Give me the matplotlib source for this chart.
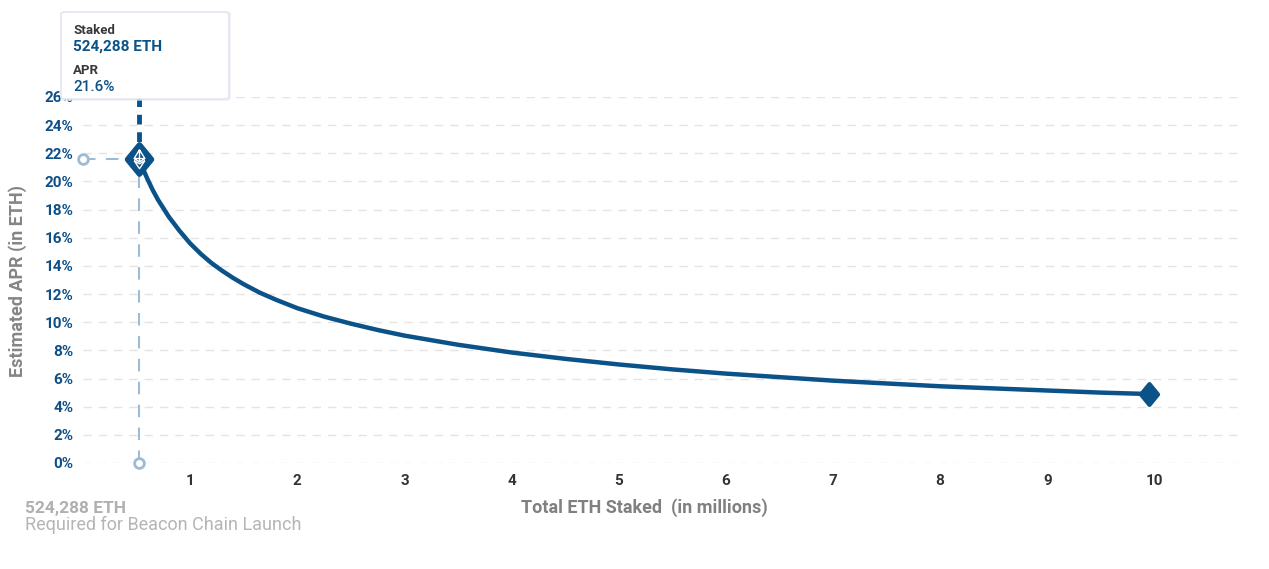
import matplotlib.pyplot as plt
from matplotlib.patches import FancyBboxPatch
from matplotlib.path import Path
from matplotlib.markers import MarkerStyle

# data: total staked (millions ETH) vs estimated APR (%)
staked = [0.524, 0.56, 0.6, 0.65, 0.7, 0.75, 0.8, 0.85, 0.9, 0.95, 1.0, 1.1,
          1.2, 1.3, 1.4, 1.5, 1.65, 1.8, 2.0, 2.25, 2.5, 2.75, 3.0, 3.5, 4.0,
          4.5, 5.0, 5.5, 6.0, 6.5, 7.0, 7.5, 8.0, 8.5, 9.0, 9.5, 9.95]
apr = [21.6, 20.9, 20.2, 19.4, 18.7, 18.1, 17.5, 17.0, 16.5, 16.05, 15.6, 14.85,
       14.2, 13.65, 13.15, 12.7, 12.1, 11.6, 11.0, 10.4, 9.9, 9.45, 9.05, 8.4,
       7.85, 7.4, 7.0, 6.65, 6.35, 6.1, 5.85, 5.65, 5.45, 5.3, 5.15, 5.0, 4.9]
launch_staked = 0.524288
launch_apr = 21.6
x_ticks = [1, 2, 3, 4, 5, 6, 7, 8, 9, 10]
y_ticks = list(range(0, 27, 2))

BLUE = '#0a5288'
TICKBLUE = '#0d4f86'
LIGHT = '#9dbbd6'

plt.rcParams['font.family'] = ['Roboto', 'DejaVu Sans']

fig = plt.figure(figsize=(12.69, 5.69), dpi=100)
ax = fig.add_axes([83 / 1269, 1 - 463 / 569, 1155 / 1269, 366 / 569])
ax.set_xlim(0, 10.78)
ax.set_ylim(0, 26)

# grid
for yt in y_ticks:
    ax.axhline(yt, color='#e4e4e4', lw=1, dashes=(6, 5), zorder=0)

# rounded diamond marker
diamond = Path([(0, 1), (0.82, 0), (0, -1), (-0.82, 0), (0, 1)],
               [Path.MOVETO, Path.LINETO, Path.LINETO, Path.LINETO, Path.CLOSEPOLY])
diamond_m = MarkerStyle(diamond, joinstyle='round')

# main curve
ax.plot(staked, apr, color=BLUE, lw=3.2, solid_capstyle='round', zorder=3)
ax.plot(staked[-1], apr[-1], marker=diamond_m, ms=15, mfc=BLUE,
        mec=BLUE, mew=3, zorder=4, clip_on=False)

# launch reference lines
ax.plot([launch_staked, launch_staked], [0, launch_apr], color=LIGHT, lw=1.5,
        dashes=(6, 5), zorder=2, clip_on=False)
ax.plot([0, launch_staked], [launch_apr, launch_apr], color=LIGHT, lw=1.5,
        dashes=(6, 5), zorder=2, clip_on=False)
ax.plot([launch_staked, launch_staked], [launch_apr, 26.3], color=BLUE, lw=3.5,
        dashes=(2, 1.6), zorder=2, clip_on=False)
ax.plot([0, launch_staked], [launch_apr, 0], ls='none', marker='o', ms=7,
        mfc='white', mec=LIGHT, mew=2, zorder=3, clip_on=False)

# launch marker with eth logo
ax.plot(launch_staked, launch_apr, marker=diamond_m, ms=21, mfc=BLUE, mec=BLUE,
        mew=4, zorder=5, clip_on=False)
eth_verts = [(0, 1), (0.55, 0.1), (0, -0.25), (-0.55, 0.1), (0, 1),
             (-0.55, 0.1), (0.55, 0.1),
             (0, 1), (0, -0.25),
             (-0.55, -0.12), (0, -0.95), (0.55, -0.12),
             (-0.55, -0.12), (0, -0.45), (0.55, -0.12)]
eth_codes = [Path.MOVETO, Path.LINETO, Path.LINETO, Path.LINETO, Path.LINETO,
             Path.MOVETO, Path.LINETO,
             Path.MOVETO, Path.LINETO,
             Path.MOVETO, Path.LINETO, Path.LINETO,
             Path.MOVETO, Path.LINETO, Path.LINETO]
eth = Path(eth_verts, eth_codes)
ax.plot(launch_staked, launch_apr, marker=eth, ms=14, mfc='none', mec='white',
        mew=1.0, zorder=6, clip_on=False)

# axes styling
for s in ax.spines.values():
    s.set_visible(False)
ax.set_xticks(x_ticks)
ax.set_yticks(y_ticks)
ax.set_yticklabels([f'{v}%' for v in y_ticks])
ax.tick_params(axis='both', length=0)
ax.tick_params(axis='y', pad=7, labelsize=11, labelcolor=TICKBLUE)
ax.tick_params(axis='x', pad=8, labelsize=11, labelcolor='#333333')
for lab in ax.get_xticklabels() + ax.get_yticklabels():
    lab.set_fontweight('bold')

fig.text(644 / 1269, 1 - 508 / 569, 'Total ETH Staked  (in millions)',
         ha='center', va='center', fontsize=13, fontweight='bold', color='#808080')
fig.text(18 / 1269, 1 - 281 / 569, 'Estimated APR (in ETH)', rotation=90,
         ha='center', va='center', fontsize=13, fontweight='bold', color='#858585')
fig.text(25 / 1269, 1 - 508 / 569, '524,288 ETH', ha='left', va='center',
         fontsize=12.5, fontweight='bold', color='#b0b0b0')
fig.text(25 / 1269, 1 - 525 / 569, 'Required for Beacon Chain Launch', ha='left',
         va='center', fontsize=13, color='#b5b5b5')

# tooltip
W, H = 1269, 569
shadow = FancyBboxPatch((60 / W, 1 - 101 / H), 171 / W, 90 / H,
                        boxstyle='round,pad=0,rounding_size=0.004',
                        transform=fig.transFigure, fc='#e9ecf4', ec='none',
                        alpha=0.6, zorder=5)
box = FancyBboxPatch((61 / W, 1 - 99 / H), 168 / W, 87 / H,
                     boxstyle='round,pad=0,rounding_size=0.004',
                     transform=fig.transFigure, fc='white', ec='#dfe3ef',
                     lw=1, zorder=6)
fig.add_artist(shadow)
fig.add_artist(box)
fig.text(73 / W, 1 - 30 / H, 'Staked', ha='left', va='center', fontsize=9.5,
         fontweight='bold', color='#383838', zorder=7)
fig.text(73 / W, 1 - 47 / H, '524,288 ETH', ha='left', va='center',
         fontsize=11, fontweight='bold', color=BLUE, zorder=7)
fig.text(73 / W, 1 - 70 / H, 'APR', ha='left', va='center', fontsize=9.5,
         fontweight='bold', color='#383838', zorder=7)
fig.text(73 / W, 1 - 87 / H, '21.6%', ha='left', va='center', fontsize=11,
         fontweight='medium', color=BLUE, zorder=7)

plt.savefig('out.png', dpi=100)
